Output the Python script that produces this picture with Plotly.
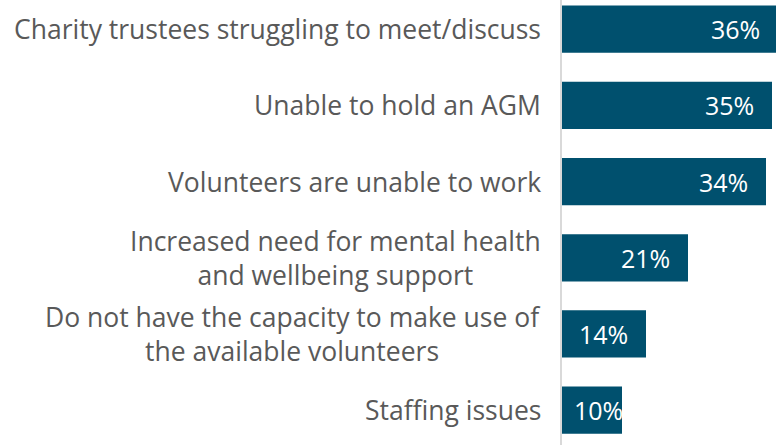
import plotly.graph_objects as go

categories = [
    "Charity trustees struggling to meet/discuss",
    "Unable to hold an AGM",
    "Volunteers are unable to work",
    "Increased need for mental health<br>and wellbeing support",
    "Do not have the capacity to make use of<br>the available volunteers",
    "Staffing issues",
]
values = [36, 35, 34, 21, 14, 10]
value_labels = [f"{v}%" for v in values]

BAR_COLOR = "#00506E"
LABEL_COLOR = "#595959"
FONT = "Open Sans"

fig = go.Figure(
    go.Bar(
        x=values,
        y=categories,
        orientation="h",
        width=0.62,
        marker=dict(color=BAR_COLOR, line=dict(width=0)),
        textposition="none",
        hoverinfo="skip",
    )
)

annotations = []
for cat in categories:
    annotations.append(dict(
        x=0, xref="paper", y=cat, yref="y", xanchor="right", yanchor="middle",
        xshift=-19, text=cat, showarrow=False, align="center",
        font=dict(family=FONT, size=26.5, color=LABEL_COLOR),
    ))
for cat, v, lab in zip(categories, values, value_labels):
    annotations.append(dict(
        x=v, xref="x", y=cat, yref="y", xanchor="right", yanchor="middle",
        xshift=(-16 if v >= 12 else 3), text=lab, showarrow=False,
        font=dict(family=FONT, size=25, color="white"),
    ))

fig.update_layout(
    width=790, height=445,
    margin=dict(l=562, r=0, t=0, b=0, pad=0),
    paper_bgcolor="white", plot_bgcolor="white",
    showlegend=False,
    hovermode=False,
    annotations=annotations,
    xaxis=dict(range=[0, 38], visible=False, fixedrange=True),
    yaxis=dict(
        type="category", range=[5.457, -0.383], showticklabels=False,
        showgrid=False, zeroline=False, showline=True, linecolor="#D9D9D9",
        linewidth=2, ticks="", fixedrange=True,
    ),
)

fig.write_html(
    "out.html",
    config={"displayModeBar": False, "staticPlot": True},
    post_script="document.body.style.margin='0';document.body.style.overflow='hidden';",
)
